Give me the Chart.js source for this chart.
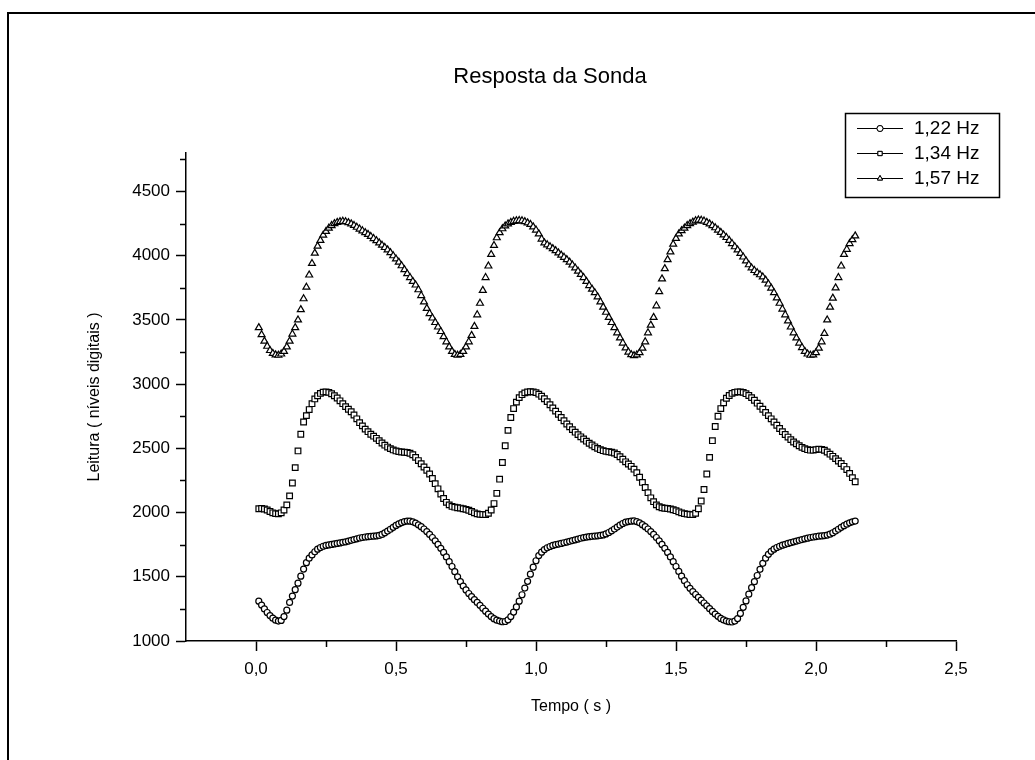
<!DOCTYPE html>
<html>
<head>
<meta charset="utf-8">
<title>Resposta da Sonda</title>
<script src="https://cdn.jsdelivr.net/npm/chart.js@4"></script>
<style>
    html, body { margin: 0; padding: 0; background: #fff; }
    #wrap { width: 1035px; height: 760px; position: relative; }
</style>
</head>
<body>
<div id="wrap"><canvas id="sondaChart"></canvas></div>
<script>
// sampling grid (s)
const T_START = 0.01;
const T_STEP = 0.01;

// leitura, 1,22 Hz (circles)
const resp122 = [
    1310, 1280, 1250, 1222, 1198, 1178, 1162, 1155, 1160, 1190,
    1240, 1300, 1350, 1400, 1450, 1505, 1560, 1610, 1645, 1670,
    1695, 1715, 1728, 1738, 1744, 1748, 1752, 1756, 1760, 1764,
    1768, 1772, 1778, 1784, 1790, 1796, 1802, 1806, 1810, 1812,
    1814, 1816, 1818, 1822, 1830, 1842, 1856, 1870, 1885, 1900,
    1912, 1922, 1930, 1934, 1933, 1928, 1918, 1905, 1890, 1872,
    1852, 1830, 1806, 1780, 1752, 1722, 1690, 1655, 1618, 1580,
    1540, 1500, 1462, 1428, 1398, 1370, 1345, 1322, 1300, 1278,
    1255, 1232, 1210, 1190, 1174, 1162, 1155, 1150, 1152, 1165,
    1190, 1225, 1265, 1310, 1360, 1412, 1465, 1520, 1575, 1625,
    1665, 1692, 1712, 1726, 1736, 1744, 1750, 1755, 1760, 1765,
    1770, 1776, 1782, 1788, 1794, 1800, 1805, 1809, 1812, 1815,
    1817, 1819, 1822, 1826, 1834, 1845, 1858, 1872, 1887, 1902,
    1915, 1925, 1930, 1933, 1935, 1930, 1920, 1906, 1890, 1872,
    1852, 1830, 1806, 1780, 1752, 1722, 1690, 1655, 1618, 1580,
    1542, 1505, 1470, 1438, 1410, 1385, 1362, 1340, 1318, 1296,
    1274, 1252, 1230, 1210, 1192, 1176, 1164, 1155, 1150, 1148,
    1155, 1175, 1215, 1262, 1312, 1365, 1415, 1462, 1510, 1558,
    1605, 1645, 1675, 1698, 1715, 1728, 1738, 1746, 1753, 1760,
    1766, 1772, 1778, 1784, 1790, 1796, 1801, 1806, 1810, 1813,
    1816, 1818, 1821, 1825, 1832, 1843, 1856, 1870, 1885, 1898,
    1910, 1920, 1928, 1934
];

// leitura, 1,34 Hz (squares)
const resp134 = [
    2030, 2032, 2028, 2020, 2008, 1998, 1992, 1990, 1998, 2020,
    2060, 2130, 2230, 2350, 2480, 2610, 2705, 2755, 2802, 2848,
    2885, 2910, 2928, 2938, 2940, 2936, 2925, 2910, 2892, 2870,
    2848, 2825, 2805, 2785, 2760, 2730, 2700, 2675, 2650, 2630,
    2610, 2595, 2578, 2560, 2542, 2525, 2510, 2498, 2488, 2480,
    2475, 2472, 2470, 2468, 2462, 2450, 2430, 2405, 2380, 2355,
    2330, 2300, 2265, 2225, 2185, 2145, 2110, 2080, 2060, 2048,
    2042, 2038, 2035, 2030, 2025, 2018, 2008, 1998, 1990, 1986,
    1985, 1984, 1995, 2020, 2070, 2150, 2260, 2390, 2520, 2640,
    2740, 2810, 2860, 2895, 2918, 2932, 2939, 2941, 2940, 2934,
    2922, 2906, 2886, 2864, 2840, 2815, 2790, 2765, 2740, 2715,
    2690, 2668, 2646, 2626, 2607, 2590, 2573, 2556, 2540, 2526,
    2512, 2500, 2490, 2482, 2477, 2474, 2470, 2464, 2452, 2435,
    2415, 2395, 2378, 2360, 2338, 2310, 2275, 2235, 2195, 2155,
    2115, 2085, 2060, 2045, 2038, 2034, 2032, 2028, 2022, 2015,
    2006, 1998, 1992, 1988, 1985, 1984, 1995, 2030, 2090, 2180,
    2300, 2430, 2560, 2670, 2750, 2810, 2855, 2890, 2912, 2928,
    2936, 2940, 2940, 2936, 2926, 2912, 2895, 2875, 2852, 2828,
    2805, 2780, 2755, 2730, 2705, 2680, 2655, 2630, 2608, 2588,
    2568, 2550, 2535, 2520, 2508, 2498, 2490, 2486, 2486, 2490,
    2494, 2492, 2485, 2472, 2455, 2438, 2420, 2402, 2382, 2360,
    2335, 2305, 2272, 2240
];

// leitura, 1,57 Hz (triangles)
const resp157 = [
    3440, 3385, 3335, 3295, 3262, 3240, 3228, 3225, 3235, 3255,
    3290, 3335, 3390, 3440, 3500, 3580, 3665, 3755, 3850, 3940,
    4020, 4075, 4120, 4160, 4190, 4215, 4235, 4250, 4260, 4266,
    4268, 4265, 4258, 4248, 4236, 4222, 4208, 4194, 4180, 4166,
    4150, 4134, 4118, 4100, 4082, 4064, 4046, 4024, 4000, 3975,
    3950, 3922, 3892, 3860, 3830, 3800, 3772, 3735, 3690, 3640,
    3590, 3550, 3515, 3480, 3445, 3410, 3370, 3330, 3290, 3255,
    3232, 3225, 3232, 3255, 3290, 3330, 3380, 3450, 3540, 3630,
    3730, 3830, 3920, 4010, 4080, 4140, 4180, 4210, 4232, 4248,
    4260, 4268, 4272, 4274, 4272, 4266, 4256, 4244, 4225, 4200,
    4170, 4130, 4100, 4085, 4070, 4055, 4040, 4022, 4005, 3988,
    3970, 3950, 3928, 3905, 3880, 3855, 3830, 3800, 3768, 3740,
    3712, 3680, 3640, 3600, 3560, 3520, 3480, 3440, 3400, 3360,
    3320, 3282, 3250, 3230, 3222, 3228, 3245, 3280, 3330, 3400,
    3460, 3520, 3610, 3720, 3820, 3900, 3970, 4030, 4090, 4135,
    4170, 4195, 4215, 4235, 4250, 4262, 4272, 4278, 4276, 4270,
    4260, 4248, 4234, 4218, 4200, 4182, 4162, 4142, 4120, 4095,
    4070, 4045, 4018, 3990, 3960, 3930, 3905, 3885, 3868, 3852,
    3835, 3810, 3780, 3748, 3712, 3672, 3630, 3585, 3540, 3492,
    3445, 3400, 3360, 3320, 3285, 3255, 3235, 3225, 3228, 3245,
    3280, 3330, 3395, 3500, 3600, 3670, 3750, 3830, 3920, 4010,
    4050, 4095, 4125, 4155
];

const seriesLabels = ['1,22 Hz', '1,34 Hz', '1,57 Hz'];
const seriesMarkers = ['circle', 'rect', 'triangle'];

const xMajorTicks = [0, 0.5, 1.0, 1.5, 2.0, 2.5];
const xMinorTicks = [0.25, 0.75, 1.25, 1.75, 2.25];
const yMajorTicks = [1000, 1500, 2000, 2500, 3000, 3500, 4000, 4500];
const yMinorTicks = [1250, 1750, 2250, 2750, 3250, 3750, 4250, 4750];

const FONT = '"Liberation Sans", Arial, sans-serif';

function toPoints(values) {
    return values.map((v, i) => ({ x: +(T_START + i * T_STEP).toFixed(2), y: v }));
}

function fmtComma(value) {
    return value.toFixed(1).replace('.', ',');
}

// title, legend box, minor ticks and the scanned page frame
const decorPlugin = {
    id: 'decor',
    afterDraw(chart) {
        const ctx = chart.ctx;
        const xs = chart.scales.x;
        const ys = chart.scales.y;
        ctx.save();
        ctx.strokeStyle = '#000';
        ctx.fillStyle = '#000';

        // page frame (top + left only)
        ctx.lineWidth = 2;
        ctx.beginPath();
        ctx.moveTo(8, 760);
        ctx.lineTo(8, 13);
        ctx.lineTo(1035, 13);
        ctx.stroke();

        // minor ticks
        ctx.lineWidth = 1.5;
        ctx.beginPath();
        xMinorTicks.forEach(v => {
            const px = Math.round(xs.getPixelForValue(v)) + 0.5;
            ctx.moveTo(px, ys.bottom);
            ctx.lineTo(px, ys.bottom + 6);
        });
        yMinorTicks.forEach(v => {
            const py = Math.round(ys.getPixelForValue(v)) + 0.5;
            ctx.moveTo(xs.left, py);
            ctx.lineTo(xs.left - 6, py);
        });
        ctx.stroke();

        // title
        ctx.font = '22px ' + FONT;
        ctx.textAlign = 'center';
        ctx.textBaseline = 'middle';
        ctx.fillText('Resposta da Sonda', 550, 77);

        // legend
        const box = { x: 845, y: 113, w: 154, h: 84 };
        ctx.lineWidth = 1.5;
        ctx.strokeRect(box.x + 0.5, box.y + 0.5, box.w, box.h);
        ctx.font = '19px ' + FONT;
        ctx.textAlign = 'left';
        seriesLabels.forEach((label, i) => {
            const cy = box.y + 15 + i * 25;
            ctx.lineWidth = 1;
            ctx.beginPath();
            ctx.moveTo(857, cy + 0.5);
            ctx.lineTo(903, cy + 0.5);
            ctx.stroke();
            ctx.fillStyle = '#fff';
            Chart.helpers.drawPoint(ctx, { pointStyle: seriesMarkers[i], radius: 3, rotation: 0, borderWidth: 1 }, 880, cy + 0.5);
            ctx.fill();
            ctx.stroke();
            ctx.fillStyle = '#000';
            ctx.fillText(label, 914, cy + 1);
        });
        ctx.restore();
    }
};

const ctx = document.getElementById('sondaChart').getContext('2d');

const datasets = [resp122, resp134, resp157].map((values, i) => ({
    label: seriesLabels[i],
    data: toPoints(values),
    showLine: false,
    pointStyle: seriesMarkers[i],
    pointRadius: i === 0 ? 3 : 4,
    pointBorderWidth: 1.2,
    pointBorderColor: '#000',
    pointBackgroundColor: '#fff',
    borderColor: '#000',
    backgroundColor: '#fff'
}));

new Chart(ctx, {
    type: 'scatter',
    data: { datasets: datasets },
    options: {
        responsive: true,
        maintainAspectRatio: false,
        animation: false,
        layout: {
            padding: { left: 85, right: 79, top: 153, bottom: 44 }
        },
        plugins: {
            legend: { display: false },
            title: { display: false },
            tooltip: { enabled: false }
        },
        scales: {
            x: {
                type: 'linear',
                min: -0.25,
                max: 2.5,
                afterBuildTicks: scale => {
                    scale.ticks = xMajorTicks.map(v => ({ value: v }));
                },
                afterFit: scale => { scale.height = 75; },
                ticks: {
                    callback: value => fmtComma(value),
                    color: '#000',
                    font: { family: FONT, size: 17 },
                    padding: 8,
                    maxRotation: 0,
                    autoSkip: false
                },
                grid: {
                    drawOnChartArea: false,
                    drawTicks: true,
                    tickLength: 10,
                    tickColor: '#000',
                    tickWidth: 1.5
                },
                border: { display: true, color: '#000', width: 1.5 },
                title: {
                    display: true,
                    text: 'Tempo ( s )',
                    color: '#000',
                    font: { family: FONT, size: 16 },
                    padding: 0
                }
            },
            y: {
                type: 'linear',
                min: 1000,
                max: 4800,
                afterBuildTicks: scale => {
                    scale.ticks = yMajorTicks.map(v => ({ value: v }));
                },
                afterFit: scale => { scale.width = 101; },
                ticks: {
                    callback: value => String(value),
                    color: '#000',
                    font: { family: FONT, size: 17 },
                    padding: 6
                },
                grid: {
                    drawOnChartArea: false,
                    drawTicks: true,
                    tickLength: 10,
                    tickColor: '#000',
                    tickWidth: 1.5
                },
                border: { display: true, color: '#000', width: 1.5 },
                title: {
                    display: true,
                    text: 'Leitura ( níveis digitais )',
                    color: '#000',
                    font: { family: FONT, size: 16 },
                    padding: 0
                }
            }
        }
    },
    plugins: [decorPlugin]
});
</script>
</body>
</html>
